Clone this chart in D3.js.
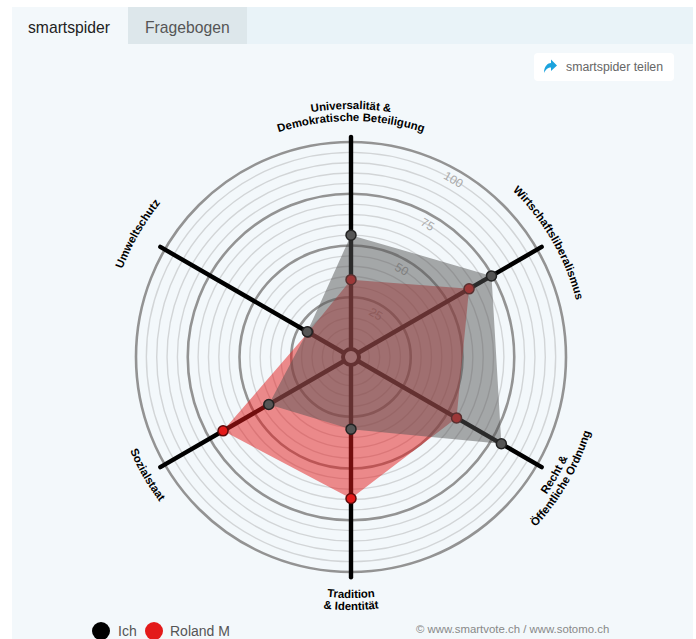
<!DOCTYPE html>
<html><head><meta charset="utf-8">
<script src="https://cdn.jsdelivr.net/npm/d3@7/dist/d3.min.js"></script>
<style>html,body{margin:0;padding:0;background:#fff;overflow:hidden}svg{display:block;font-family:"Liberation Sans",Arial,sans-serif}</style>
</head><body><svg id="c" width="696" height="639"></svg>
<script>
const axes = ["Universalität & Demokratische Beteiligung","Wirtschaftsliberalismus","Recht & Öffentliche Ordnung","Tradition & Identität","Sozialstaat","Umweltschutz"];
const axisLabelLines = [["Universalität &","Demokratische Beteiligung"],["Wirtschaftsliberalismus"],["Recht &","Öffentliche Ordnung"],["Tradition","& Identität"],["Sozialstaat"],["Umweltschutz"]];
const ich = [55,74.5,80,31,42,20.5];
const roland = [33.5,62,55,64.5,67.5,20];
const majorTicks = [25,50,75,100];
const minorTicks = [5,10,15,20,30,35,40,45,55,60,65,70,80,85,90,95];
const seriesNames = ["Ich","Roland M"];
const tabs = ["smartspider","Fragebogen"];

const svg = d3.select("#c");
const cx=351, cy=357;
const r = d3.scaleLinear().domain([0,100]).range([8,215]);
const ang = d3.scalePoint().domain(d3.range(axes.length+1)).range([0,2*Math.PI]);
const pt = (v,i)=>{const a=ang(i)-Math.PI/2;const R=r(v);return [cx+R*Math.cos(a),cy+R*Math.sin(a)];};

// panel
svg.append("rect").attr("x",12).attr("y",7).attr("width",681).attr("height",632).attr("fill","#f3f8fb");
svg.append("rect").attr("x",12).attr("y",7).attr("width",681).attr("height",37).attr("fill","#e9f3f8");
svg.append("rect").attr("x",12).attr("y",7).attr("width",116).attr("height",37).attr("fill","#f3f8fb");
svg.append("rect").attr("x",128).attr("y",7).attr("width",119).attr("height",37).attr("fill","#dde7eb");
svg.append("text").attr("x",28).attr("y",33).attr("font-size",15.7).attr("fill","#222").text(tabs[0]);
svg.append("text").attr("x",145).attr("y",33).attr("font-size",15.7).attr("fill","#555").text(tabs[1]);
// share button
svg.append("rect").attr("x",534).attr("y",53).attr("width",140).attr("height",28).attr("rx",4).attr("fill","#fff");
svg.append("path").attr("d","M544 73 C544 66 548 63 551 63 L551 59.5 L557 65.5 L551 71 L551 67.5 C548 67.5 546 69 544 73 Z").attr("fill","#1ca3dd");
svg.append("text").attr("x",566).attr("y",71).attr("font-size",12.3).attr("fill","#666").text("smartspider teilen");

// rings
const g = svg.append("g");
g.selectAll("circle.minor").data(minorTicks).join("circle").attr("class","minor").attr("cx",cx).attr("cy",cy).attr("r",d=>r(d)).attr("fill","none").attr("stroke","#d2d5d7").attr("stroke-width",1.4);
g.selectAll("circle.major").data(majorTicks).join("circle").attr("class","major").attr("cx",cx).attr("cy",cy).attr("r",d=>r(d)).attr("fill","none").attr("stroke","#939393").attr("stroke-width",2.6);
// tick labels
g.selectAll("text.tick").data(majorTicks).join("text").attr("class","tick")
 .attr("transform",d=>{const R=r(d)-10;const a=ang(1)/2-Math.PI/2;return `translate(${cx+R*Math.cos(a)},${cy+R*Math.sin(a)}) rotate(30)`;})
 .attr("text-anchor","middle").attr("dy","0.35em").attr("font-size",12).attr("fill","#a9a9a9").text(d=>d);
// axes
g.selectAll("line.axis").data(axes).join("line").attr("class","axis")
 .attr("x1",(d,i)=>pt(0,i)[0]).attr("y1",(d,i)=>pt(0,i)[1])
 .attr("x2",(d,i)=>pt(102.5,i)[0]).attr("y2",(d,i)=>pt(102.5,i)[1])
 .attr("stroke","#000").attr("stroke-width",4.4).attr("stroke-linecap","round");
g.append("circle").attr("cx",cx).attr("cy",cy).attr("r",r(0)).attr("fill","#f3f8fb").attr("stroke","#000").attr("stroke-width",4);

const poly = vals=>d3.line()(vals.map((v,i)=>pt(v,i)))+"Z";
// Roland below, Ich above
g.append("path").attr("d",poly(roland)).attr("fill","#e31a1a").attr("fill-opacity",.5);
g.selectAll("circle.rp").data(roland).join("circle").attr("class","rp").attr("cx",(d,i)=>pt(d,i)[0]).attr("cy",(d,i)=>pt(d,i)[1]).attr("r",5).attr("fill","#e31a1a").attr("stroke","#5a0a0a").attr("stroke-width",1.5);
g.append("path").attr("d",poly(ich)).attr("fill","#555").attr("fill-opacity",.5);
g.selectAll("circle.ip").data(ich).join("circle").attr("class","ip").attr("cx",(d,i)=>pt(d,i)[0]).attr("cy",(d,i)=>pt(d,i)[1]).attr("r",5).attr("fill","#555").attr("stroke","#222").attr("stroke-width",1.5);

// curved labels
const labelRadii = [[248,236],[232],[239,251],[241,253],[240],[245]];
const defs = svg.append("defs");
axisLabelLines.forEach((lines,i)=>{
  const a0 = ang(i)-Math.PI/2;
  const ccw = i>=2 && i<=4;
  lines.forEach((t,j)=>{
    const R = labelRadii[i][j], id=`lp${i}_${j}`, span=1.2;
    const p=d3.path();
    p.moveTo(cx+R*Math.cos(a0+(ccw?span:-span)),cy+R*Math.sin(a0+(ccw?span:-span)));
    p.arc(cx,cy,R,a0+(ccw?span:-span),a0+(ccw?-span:span),ccw);
    defs.append("path").attr("id",id).attr("d",p.toString());
    svg.append("text").attr("font-size",11.4).attr("font-weight","bold").attr("fill","#000")
      .append("textPath").attr("href","#"+id).attr("startOffset","50%").attr("text-anchor","middle").text(t);
  });
});

// legend
svg.append("circle").attr("cx",101).attr("cy",631).attr("r",9).attr("fill","#000");
svg.append("text").attr("x",118).attr("y",636).attr("font-size",14).attr("fill","#555").text(seriesNames[0]);
svg.append("circle").attr("cx",154).attr("cy",631).attr("r",9).attr("fill","#e31a1a");
svg.append("text").attr("x",170).attr("y",636).attr("font-size",14).attr("fill","#555").text(seriesNames[1]);
svg.append("text").attr("x",416).attr("y",633).attr("font-size",11.4).attr("fill","#888").text("© www.smartvote.ch / www.sotomo.ch");
</script></body></html>
